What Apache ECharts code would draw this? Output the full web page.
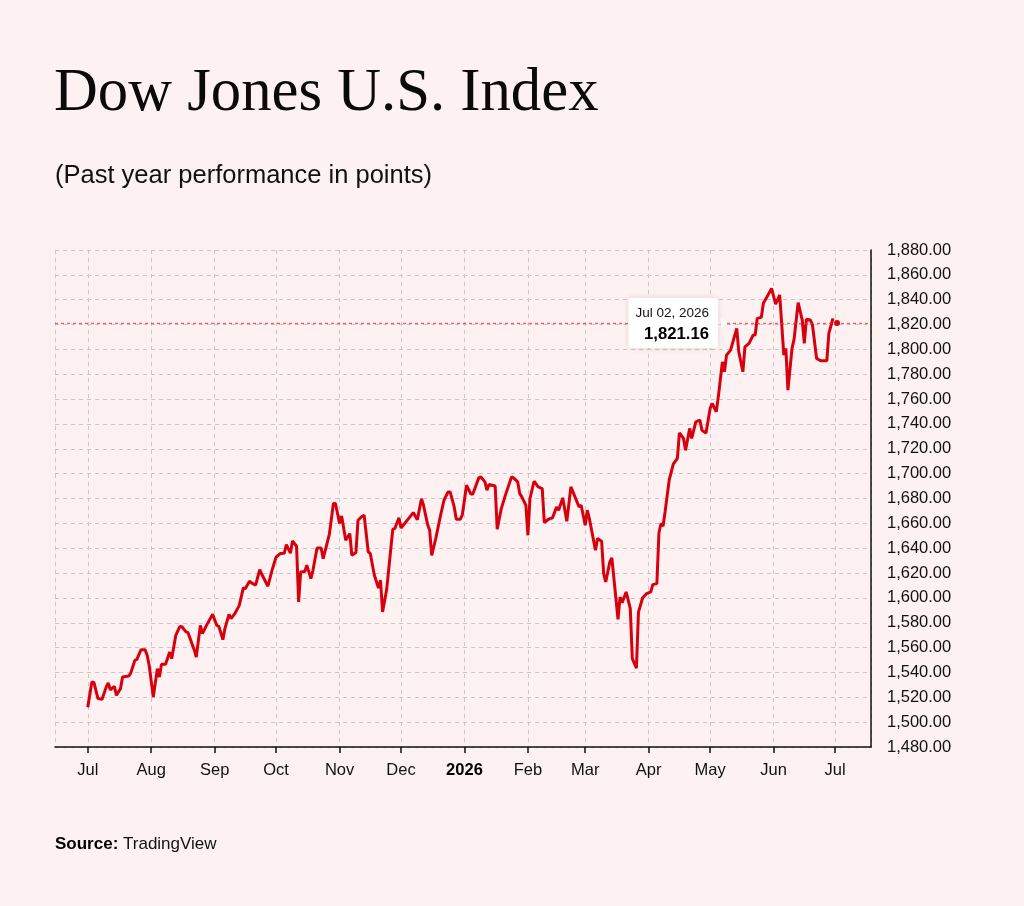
<!DOCTYPE html>
<html lang="en">
<head>
    <meta charset="UTF-8">
    <title>Dow Jones U.S. Index</title>
    <script src="https://cdn.jsdelivr.net/npm/echarts@6/dist/echarts.min.js"></script>
    <style>
        html, body { margin: 0; padding: 0; background: #fef1f1; }
        #main { width: 1024px; height: 906px; }
    </style>
</head>
<body>
<div id="main"></div>

<script type="text/javascript">
    // daily closes
    var dates = [
        '2025-07-01','2025-07-03','2025-07-04','2025-07-06','2025-07-08','2025-07-10','2025-07-11','2025-07-12','2025-07-14','2025-07-15',
        '2025-07-17','2025-07-18','2025-07-21','2025-07-22','2025-07-24','2025-07-25','2025-07-27','2025-07-29','2025-07-30','2025-07-31',
        '2025-08-02','2025-08-04','2025-08-05','2025-08-06','2025-08-08','2025-08-10','2025-08-11','2025-08-13','2025-08-15','2025-08-16',
        '2025-08-18','2025-08-19','2025-08-21','2025-08-22','2025-08-23','2025-08-25','2025-08-26','2025-08-28','2025-08-31',
        '2025-09-02','2025-09-03','2025-09-05','2025-09-06','2025-09-08','2025-09-09','2025-09-11','2025-09-13','2025-09-15','2025-09-16',
        '2025-09-18','2025-09-19','2025-09-21','2025-09-23','2025-09-24','2025-09-27','2025-09-29',
        '2025-10-01','2025-10-03','2025-10-05','2025-10-06','2025-10-08','2025-10-09','2025-10-11','2025-10-12','2025-10-13','2025-10-15',
        '2025-10-16','2025-10-18','2025-10-19','2025-10-21','2025-10-23','2025-10-24','2025-10-27','2025-10-29','2025-10-30',
        '2025-11-01','2025-11-02','2025-11-04','2025-11-06','2025-11-07','2025-11-09','2025-11-10','2025-11-12','2025-11-13','2025-11-15',
        '2025-11-16','2025-11-18','2025-11-20','2025-11-21','2025-11-22','2025-11-24','2025-11-27','2025-11-28','2025-11-30',
        '2025-12-01','2025-12-05','2025-12-07','2025-12-09','2025-12-11','2025-12-12','2025-12-14','2025-12-15','2025-12-16','2025-12-18',
        '2025-12-20','2025-12-22','2025-12-24','2025-12-25','2025-12-27','2025-12-28','2025-12-30','2025-12-31',
        '2026-01-02','2026-01-04','2026-01-05','2026-01-08','2026-01-09','2026-01-11','2026-01-12','2026-01-13','2026-01-16','2026-01-17',
        '2026-01-19','2026-01-21','2026-01-24','2026-01-25','2026-01-27','2026-01-28','2026-01-29','2026-01-31',
        '2026-02-01','2026-02-02','2026-02-04','2026-02-06','2026-02-08','2026-02-09','2026-02-11','2026-02-13','2026-02-15','2026-02-16',
        '2026-02-18','2026-02-20','2026-02-22','2026-02-24','2026-02-26','2026-02-27',
        '2026-03-01','2026-03-02','2026-03-03','2026-03-06','2026-03-07','2026-03-09','2026-03-10','2026-03-11','2026-03-13','2026-03-14',
        '2026-03-17','2026-03-18','2026-03-19','2026-03-21','2026-03-23','2026-03-24','2026-03-26','2026-03-27','2026-03-29','2026-03-31',
        '2026-04-02','2026-04-03','2026-04-05','2026-04-06','2026-04-07','2026-04-08','2026-04-09','2026-04-11','2026-04-13','2026-04-15',
        '2026-04-16','2026-04-18','2026-04-19','2026-04-21','2026-04-22','2026-04-24','2026-04-26','2026-04-27','2026-04-29',
        '2026-05-01','2026-05-02','2026-05-04','2026-05-05','2026-05-07','2026-05-08','2026-05-09','2026-05-11','2026-05-14','2026-05-15',
        '2026-05-17','2026-05-18','2026-05-20','2026-05-22','2026-05-23','2026-05-24','2026-05-26','2026-05-27','2026-05-29','2026-05-31',
        '2026-06-02','2026-06-04','2026-06-06','2026-06-07','2026-06-08','2026-06-10','2026-06-11','2026-06-13','2026-06-15','2026-06-16',
        '2026-06-17','2026-06-19','2026-06-20','2026-06-22','2026-06-24','2026-06-27','2026-06-28','2026-06-30'
    ];

    var values = [
        1512, 1532.3, 1532, 1519, 1518.5, 1528.2, 1531.5, 1526.1, 1528.8, 1521.6,
        1527, 1536.3, 1537.1, 1539.5, 1549.7, 1550.5, 1558.3, 1558.3, 1553.8, 1545.7,
        1520.2, 1543.1, 1536.3, 1546.5, 1546.5, 1556.4, 1551.1, 1569.9, 1577.1, 1576.8,
        1572.6, 1572, 1562.6, 1558.3, 1552.4, 1577.9, 1571.3, 1577.9, 1586.8,
        1577.9, 1577.3, 1566.4, 1575.3, 1586.8, 1583.3, 1587.8, 1594, 1608, 1607.6,
        1613.4, 1612.1, 1610.2, 1622.8, 1619, 1609.4, 1622.2,
        1632.9, 1635.7, 1636, 1642.9, 1636, 1645.8, 1641.6, 1596.7, 1620.9, 1621.2,
        1626.3, 1615.5, 1622.2, 1640.2, 1640.2, 1631.6, 1651.2, 1676, 1676,
        1659.9, 1666, 1646.4, 1651.8, 1634.3, 1636.5, 1662.5, 1665.7, 1666.5, 1637,
        1635.7, 1618.2, 1608, 1614.2, 1588.7, 1606.7, 1655.3, 1655.8, 1664.5,
        1656.3, 1664.4, 1668.7, 1662.9, 1679.8, 1674.6, 1659, 1654.5, 1634.3, 1647.8,
        1663.9, 1678.6, 1685.3, 1685.3, 1673.2, 1663.3, 1663.3, 1667.1,
        1690.7, 1684, 1683.2, 1696.6, 1697.4, 1693.4, 1686.7, 1691.3, 1690.1, 1655.3,
        1671.9, 1682.7, 1697.4, 1696.6, 1693.4, 1684, 1681.3, 1674.6,
        1650.4, 1680, 1693.9, 1689.3, 1688, 1660.7, 1663.3, 1664.4, 1673.2, 1670.6,
        1680.5, 1661.7, 1689.3, 1681.3, 1673.2, 1674.6,
        1658.5, 1670.6, 1663.9, 1638.3, 1647.8, 1645.6, 1619.6, 1612.8, 1628.9, 1632.1,
        1582.8, 1600.7, 1596.2, 1604.8, 1591.4, 1551.1, 1543.5, 1588.6, 1599.9, 1603.5,
        1604.8, 1610.7, 1611.5, 1652.4, 1659.9, 1657.7, 1669.2, 1694.7, 1707.6, 1712.2,
        1732.8, 1728.3, 1718.9, 1736.4, 1728.3, 1741.7, 1743.1, 1735, 1732.8,
        1752.5, 1756.5, 1749.8, 1761.8, 1790, 1782, 1795.4, 1799.4, 1816.9, 1798.1,
        1782, 1802.1, 1804.8, 1811.5, 1811.5, 1825, 1825.8, 1837.1, 1842.9, 1849.1,
        1836.5, 1843.8, 1795.4, 1800.8, 1767.2, 1800.8, 1808.1, 1837.6, 1823.6, 1804.8,
        1824.2, 1823.6, 1819.6, 1792.8, 1790.8, 1790.8, 1812.9, 1825
    ];

    // latest quote shown in the tooltip box
    var lastDate = '2026-07-02';
    var lastLabel = 'Jul 02, 2026';
    var lastValue = 1821.16;

    var monthNames = ['Jan', 'Feb', 'Mar', 'Apr', 'May', 'Jun', 'Jul', 'Aug', 'Sep', 'Oct', 'Nov', 'Dec'];
    var yMin = 1480, yMax = 1880, yStep = 20;

    var sans = '"Liberation Sans", Arial, Helvetica, sans-serif';
    var red = '#d6000f';
    var pinkLine = '#ff2a2a';

    function fmt(v) {
        return v.toLocaleString('en-US', {minimumFractionDigits: 2, maximumFractionDigits: 2});
    }

    var lineData = [];
    for (var i = 0; i < dates.length; i++) {
        lineData.push([dates[i], values[i]]);
    }

    var myChart = echarts.init(document.getElementById('main'));

    var option = {
        animation: false,
        backgroundColor: '#fef1f1',
        title: [{
            text: 'Dow Jones U.S. Index',
            left: 54, top: 64, padding: 0,
            textStyle: {fontFamily: '"Liberation Serif", "Times New Roman", serif', fontSize: 60.7, fontWeight: 'normal', color: '#0a0a0a'}
        }, {
            text: '(Past year performance in points)',
            left: 55, top: 163, padding: 0,
            textStyle: {fontFamily: sans, fontSize: 25.5, fontWeight: 'normal', color: '#111'}
        }, {
            text: '{b|Source:} TradingView',
            left: 55, top: 836, padding: 0,
            textStyle: {
                fontFamily: sans, fontSize: 17, fontWeight: 'normal', color: '#111',
                rich: {b: {fontFamily: sans, fontSize: 17, fontWeight: 'bold', color: '#000'}}
            }
        }],
        grid: {left: 55, right: 153, top: 250, bottom: 159},
        xAxis: {
            type: 'time',
            min: '2025-06-15',
            max: '2026-07-18 14:00',
            splitNumber: 12,
            minInterval: 32 * 86400000,
            axisLine: {lineStyle: {color: '#111', width: 1.5}},
            axisTick: {length: 6, lineStyle: {color: '#111', width: 1.5}},
            axisLabel: {
                showMinLabel: false,
                showMaxLabel: false,
                margin: 15,
                fontFamily: sans, fontSize: 16.5, color: '#111',
                formatter: function (val) {
                    var d = new Date(val);
                    if (d.getMonth() === 0) {
                        return '{yr|' + d.getFullYear() + '}';
                    }
                    return monthNames[d.getMonth()];
                },
                rich: {yr: {fontFamily: sans, fontSize: 16.5, fontWeight: 'bold', color: '#000'}}
            },
            splitLine: {show: true, lineStyle: {color: '#c9c6c6', type: [4, 4], width: 1}}
        },
        yAxis: {
            type: 'value',
            position: 'right',
            min: yMin, max: yMax, interval: yStep,
            axisLine: {show: true, lineStyle: {color: '#111', width: 1.5}},
            axisTick: {show: false},
            axisLabel: {
                margin: 16,
                fontFamily: sans, fontSize: 16.5, color: '#111',
                formatter: fmt
            },
            splitLine: {show: true, lineStyle: {color: '#c9c6c6', type: [4, 4], width: 1}}
        },
        series: [{
            type: 'line',
            data: lineData,
            showSymbol: false,
            z: 2,
            lineStyle: {color: red, width: 3},
            itemStyle: {color: red},
            markLine: {
                silent: true,
                symbol: ['none', 'none'],
                label: {show: false},
                itemStyle: {color: pinkLine},
                lineStyle: {color: pinkLine, type: [3, 3], width: 1.4, opacity: 0.75},
                emphasis: {disabled: true},
                data: [{yAxis: lastValue}]
            }
        }, {
            type: 'scatter',
            data: [[lastDate, lastValue]],
            symbolSize: 6,
            itemStyle: {color: red, opacity: 1},
            z: 10,
            label: {
                show: true,
                position: 'left',
                distance: 116,
                color: '#000',
                formatter: '{d|' + lastLabel + '}\n{v|' + fmt(lastValue) + '}',
                backgroundColor: '#ffffff',
                borderRadius: 3,
                padding: [6, 9, 2, 7],
                shadowBlur: 6,
                shadowColor: 'rgba(0,0,0,0.12)',
                rich: {
                    d: {fontFamily: sans, fontSize: 13.5, color: '#111', lineHeight: 18},
                    v: {fontFamily: sans, fontSize: 16.7, fontWeight: 'bold', color: '#000', lineHeight: 24}
                }
            },
            markPoint: {
                silent: true,
                symbol: 'triangle',
                symbolSize: [10, 6],
                symbolRotate: -90,
                symbolOffset: [-113, 0],
                itemStyle: {color: '#ffffff', opacity: 1},
                label: {show: false},
                data: [{coord: [lastDate, lastValue]}]
            }
        }]
    };

    myChart.setOption(option);
</script>
</body>
</html>
